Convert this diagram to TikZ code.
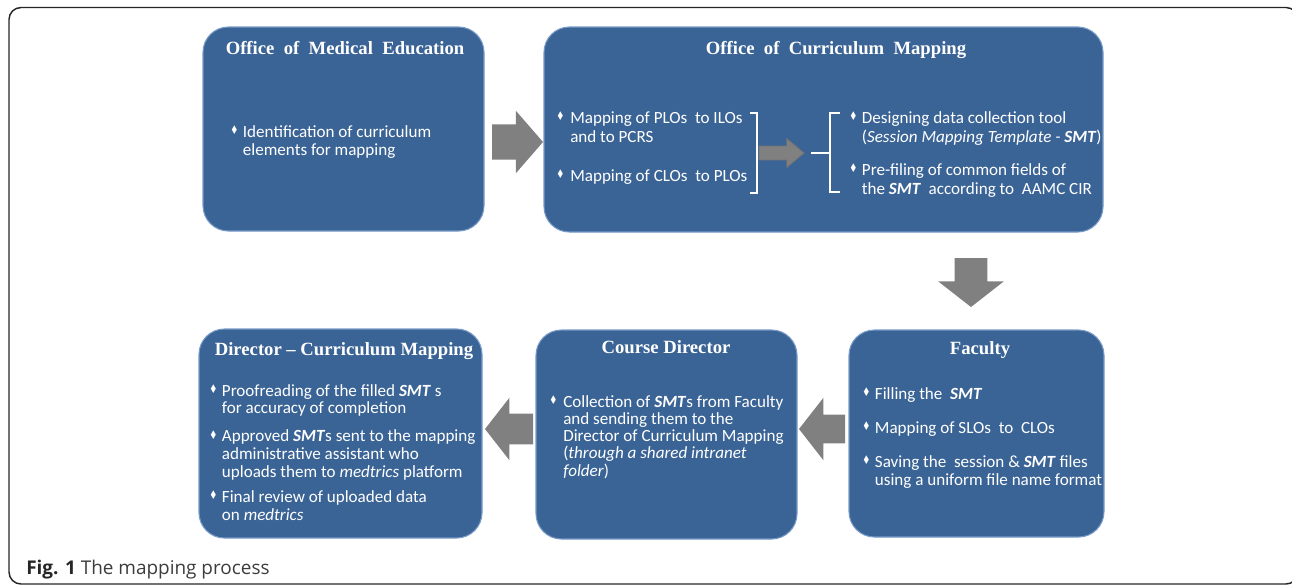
\documentclass[tikz,border=0pt]{standalone}
\usepackage{fontspec}
\setmainfont{Carlito}
\newfontfamily\ttlfont{Liberation Serif}
\newfontfamily\capfont{Open Sans}
\newfontfamily\symfont{DejaVu Sans}
\usetikzlibrary{positioning, fit, shapes.arrows}

\definecolor{boxblue}{RGB}{59,100,150}
\definecolor{boxedge}{RGB}{120,155,200}
\definecolor{arrgray}{RGB}{128,128,128}
\definecolor{capgray}{RGB}{60,60,60}

\newcommand{\dia}{\raisebox{2pt}{\scalebox{0.75}[1]{\symfont\fontsize{9pt}{9pt}\selectfont\char"2666}}}
\newcommand{\smt}{\textbf{\textit{SMT}}}

\tikzset{
  frame/.style={draw=black!85, line width=1.1pt, rounded corners=9pt},
  box/.style={draw=boxedge, line width=0.8pt, fill=boxblue, rounded corners=19pt, inner sep=0pt},
  ttl/.style={text=white, font=\ttlfont\bfseries\fontsize{14pt}{16pt}\selectfont, anchor=base, inner sep=0pt},
  lst/.style={text=white, anchor=base west, inner sep=0pt, font={\fontsize{12.8pt}{#1}\selectfont}},
  blk/.style={single arrow, fill=arrgray, draw=none, inner sep=0pt, outer sep=0pt, single arrow tip angle=104},
  brk/.style={draw=white, line width=1.1pt}
}

\begin{document}
\begin{tikzpicture}[x=0.75pt, y=-0.75pt]
\useasboundingbox (0,0) rectangle (1292,586);
\begin{scope}
\clip (0,0) rectangle (1292,586);
\draw[frame] (9,7.5) rectangle (1298,584);
\end{scope}

% the five offices
\node[box, fit={(203,27) (484,231)}] (ome) {};
\node[box, fit={(544,27) (1103,232)}] (ocm) {};
\node[box, fit={(849,330) (1104,537)}] (fac) {};
\node[box, fit={(536,330) (797,539)}] (cdir) {};
\node[box, fit={(199,329) (482,538)}] (dcm) {};

\node[ttl] (omeT) at (345,54) {Office\ \ of\ \ Medical\ \ Education};
\node[ttl] (ocmT) at (836,54) {Office\ \ of\ \ Curriculum\ \ Mapping};
\node[ttl] (facT) at (980,354) {Faculty};
\node[ttl] (cdirT) at (666,353) {Course Director};
\node[ttl] (dcmT) at (344,355) {Director – Curriculum Mapping};

\node[lst=13.5pt] (omeL) at (230,137) {\begin{tabular}[t]{@{}p{9.5pt}@{}l@{}}
\dia & Identification of curriculum\\
 & elements for mapping
\end{tabular}};

\node[lst=14.25pt] (ocmL) at (556,123) {\begin{tabular}[t]{@{}p{10.5pt}@{}l@{}}
\dia & Mapping of PLOs\ \ to ILOs\\
 & and to PCRS\\[15pt]
\dia & Mapping of CLOs\ \ to PLOs
\end{tabular}};

\node[lst=14.25pt] (ocmR) at (849,123) {\begin{tabular}[t]{@{}p{9.5pt}@{}l@{}}
\dia & Designing data collection tool\\
 & (\textit{Session Mapping Template -} \smt)\\[10.5pt]
\dia & Pre-filing of common fields of\\
 & the \smt\ \ according to\ \ AAMC CIR
\end{tabular}};

\node[lst=13.5pt] (facL) at (862,399) {\begin{tabular}[t]{@{}p{9.5pt}@{}l@{}}
\dia & Filling the\ \ \smt\\[12pt]
\dia & Mapping of SLOs\ \ to\ \ CLOs\\[12pt]
\dia & Saving the\ \ session \& \smt\ files\\
 & using a uniform file name format
\end{tabular}};

\node[lst=12.75pt] (cdirL) at (549,407) {\begin{tabular}[t]{@{}p{10.5pt}@{}l@{}}
\dia & Collection of \smt s from Faculty\\
 & and sending them to the\\
 & Director of Curriculum Mapping\\
 & (\textit{through a shared intranet}\\
 & \textit{folder})
\end{tabular}};

\node[lst=13.3pt] (dcmL) at (209,396) {\begin{tabular}[t]{@{}p{9.5pt}@{}l@{}}
\dia & Proofreading of the filled \smt\ s\\
 & for accuracy of completion\\[7.7pt]
\dia & Approved \smt s sent to the mapping\\
 & administrative assistant who\\
 & uploads them to \textit{medtrics} platform\\[5.5pt]
\dia & Final review of uploaded data\\
 & on \textit{medtrics}
\end{tabular}};

% brackets and arrow inside the curriculum mapping office
\draw[brk] (750,113) -- (757,113) -- (757,193) -- (750,193);
\draw[brk] (840,113) -- (830,113) -- (830,192) -- (840,192);
\draw[brk] (811,153) -- (830,153);
\node[blk, draw=black!55, line width=0.6pt, anchor=tail, minimum height=33.75pt, inner ysep=4.9pt,
  single arrow head extend=5.6pt, single arrow tip angle=80] (amid) at (759,153) {};

% block arrows between the offices
\node[blk, anchor=tail, minimum height=38.25pt, inner ysep=13.1pt, single arrow head extend=10.1pt,
  single arrow tip angle=98] (a1) at (492,142) {};
\node[blk, rotate=-90, anchor=tip, minimum height=36.75pt, inner ysep=12pt,
  single arrow head extend=12.4pt] (a2) at (971,307) {};
\node[blk, rotate=180, anchor=tip, minimum height=34.5pt, inner ysep=10.5pt,
  single arrow head extend=12.75pt] (a3) at (799,429) {};
\node[blk, rotate=180, anchor=tip, minimum height=36pt, inner ysep=11.25pt,
  single arrow head extend=12pt] (a4) at (485,429) {};

\node[anchor=base west, inner sep=0pt, text=capgray, font=\capfont\fontsize{14.2pt}{16pt}\selectfont]
  (cap) at (26,574) {\textbf{\color{black!85}Fig. 1} The mapping process};
\end{tikzpicture}
\end{document}
